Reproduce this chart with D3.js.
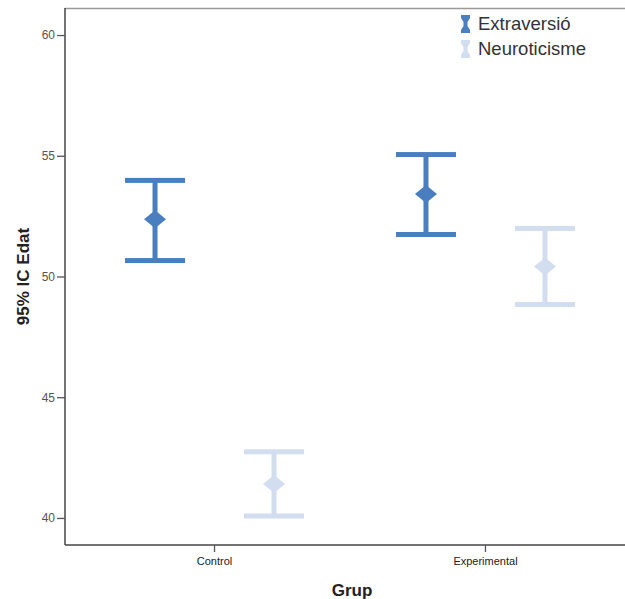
<!DOCTYPE html>
<html>
<head>
<meta charset="utf-8">
<script src="https://cdn.jsdelivr.net/npm/d3@7"></script>
<style>
  body { margin: 0; background: #fff; }
  svg { display: block; font-family: "Liberation Sans", Arial, sans-serif; }
</style>
</head>
<body>
<div id="chart"></div>
<script>
// categories and series
const groups = ["Control", "Experimental"];
const seriesNames = ["Extraversió", "Neuroticisme"];
const seriesColors = ["#4a7ebe", "#d2deef"];

// 95% CI values, per series, per group
const means = [[52.37, 53.42], [41.41, 50.41]];
const lower = [[50.66, 51.74], [40.08, 48.84]];
const upper = [[53.98, 55.05], [42.74, 51.99]];

const yTicks = [40, 45, 50, 55, 60];

const width = 625, height = 599;
const margin = { left: 65, top: 8, right: -9, bottom: 54 };

const svg = d3.select("#chart").append("svg")
    .attr("width", width)
    .attr("height", height);

const y = d3.scaleLinear()
    .domain([38.88, 61.12])
    .range([height - margin.bottom, margin.top]);

const x = d3.scalePoint()
    .domain(groups)
    .range([margin.left, width - margin.right])
    .padding(0.55);

const offset = d3.scalePoint()
    .domain(seriesNames)
    .range([-59, 60]);

// frame: top border (light)
svg.append("line")
    .attr("x1", margin.left).attr("x2", width)
    .attr("y1", margin.top + 0.5).attr("y2", margin.top + 0.5)
    .attr("stroke", "#999").attr("stroke-width", 1.5);

// y axis
const yAxis = svg.append("g")
    .attr("transform", `translate(${margin.left},0)`)
    .call(d3.axisLeft(y).tickValues(yTicks).tickSize(8).tickPadding(2));
yAxis.select(".domain").attr("stroke", "#444").attr("stroke-width", 1.5)
    .attr("d", `M0,${margin.top}V${height - margin.bottom}`);
yAxis.selectAll(".tick line").attr("stroke", "#555").attr("stroke-width", 1.3);
yAxis.selectAll(".tick text").attr("fill", "#555").style("font-size", "12px");

// x axis
const xAxis = svg.append("g")
    .attr("transform", `translate(0,${height - margin.bottom})`)
    .call(d3.axisBottom(x).tickSize(7).tickPadding(5));
xAxis.select(".domain").attr("stroke", "#444").attr("stroke-width", 1.5)
    .attr("d", `M${margin.left},0H${width}`);
xAxis.selectAll(".tick line").attr("stroke", "#555").attr("stroke-width", 1.3);
xAxis.selectAll(".tick text").attr("fill", "#222").style("font-size", "11px");

// axis titles
svg.append("text")
    .attr("transform", `translate(29,${(margin.top + height - margin.bottom) / 2}) rotate(-90)`)
    .attr("text-anchor", "middle")
    .style("font-size", "17px").style("font-weight", "bold").attr("fill", "#222")
    .text("95% IC Edat");

svg.append("text")
    .attr("x", 352).attr("y", 596)
    .attr("text-anchor", "middle")
    .style("font-size", "17px").style("font-weight", "bold").attr("fill", "#222")
    .text("Grup");

// error bars
const capW = 60, thick = 5;
seriesNames.forEach((s, si) => {
    const g = svg.append("g").attr("fill", seriesColors[si]);
    groups.forEach((grp, gi) => {
        const cx = x(grp) + offset(s);
        const yt = y(upper[si][gi]), yb = y(lower[si][gi]), ym = y(means[si][gi]);
        g.append("rect").attr("x", cx - thick / 2).attr("y", yt).attr("width", thick).attr("height", yb - yt);
        g.append("rect").attr("x", cx - capW / 2).attr("y", yt - thick / 2).attr("width", capW).attr("height", thick);
        g.append("rect").attr("x", cx - capW / 2).attr("y", yb - thick / 2).attr("width", capW).attr("height", thick);
        g.append("path")
            .attr("d", `M${cx},${ym - 9}L${cx + 11},${ym}L${cx},${ym + 9}L${cx - 11},${ym}Z`);
    });
});

// legend
const legend = svg.append("g").attr("transform", "translate(461,14)");
seriesNames.forEach((s, si) => {
    const row = legend.append("g").attr("transform", `translate(0,${si * 25})`);
    row.append("path")
        .attr("fill", seriesColors[si])
        .attr("d", "M0,1H9V4L6.5,8V12L9,16V19H0V16L2.5,12V8L0,4Z");
    row.append("text")
        .attr("x", 17).attr("y", 16)
        .style("font-size", "18.5px").attr("fill", "#333")
        .text(s);
});
</script>
</body>
</html>
